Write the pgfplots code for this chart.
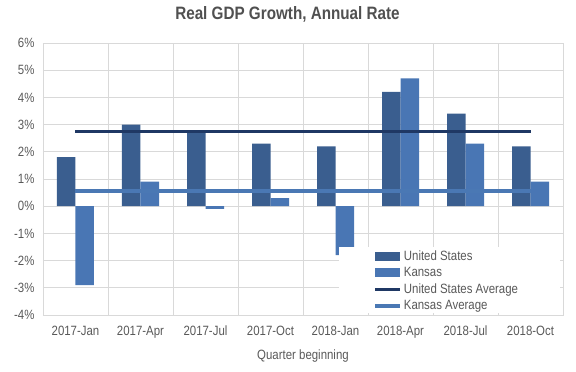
\documentclass[border=0pt]{standalone}
\usepackage{pgfplots}
\pgfplotsset{compat=1.18}
\usepackage{fontspec}
\setmainfont{Liberation Sans}[FakeStretch=0.85]
\definecolor{usbar}{RGB}{58,94,143}
\definecolor{ksbar}{RGB}{73,118,180}
\definecolor{usavg}{RGB}{31,56,100}
\definecolor{ksavg}{RGB}{74,120,180}
\definecolor{txt}{RGB}{89,89,89}
\definecolor{gridc}{RGB}{217,217,217}
\begin{document}
\begin{tikzpicture}
\begin{axis}[
  name=ax,
  scale only axis,
  width=520bp, height=272bp,
  xmin=-0.5, xmax=7.5,
  ymin=-4, ymax=6,
  ybar=0pt,
  bar width=18.5bp,
  xtick={0,...,7},
  xticklabels={2017-Jan,2017-Apr,2017-Jul,2017-Oct,2018-Jan,2018-Apr,2018-Jul,2018-Oct},
  minor xtick={-0.5,0.5,...,7.5},
  xminorgrids=true,
  ytick={-4,...,6},
  ymajorgrids=true,
  yticklabel={\pgfmathprintnumber{\tick}\%},
  /pgf/number format/assume math mode=true,
  major tick length=0pt, minor tick length=0pt,
  grid style={draw=gridc, line width=0.8bp},
  minor grid style={draw=gridc, line width=0.8bp},
  axis line style={draw=gridc, line width=0.8bp},
  tick label style={font=\fontsize{13.5}{16}\selectfont, text=txt},
  xticklabel style={anchor=center, text height=10bp, text depth=3bp, yshift=-17bp},
  yticklabel style={xshift=-5bp},
  xlabel={Quarter beginning},
  xlabel style={font=\fontsize{13.5}{16}\selectfont, text=txt, yshift=-4bp},
  clip=false,
  legend cell align=left,
  legend style={at={(rel axis cs:0.635,0.245)}, anchor=north west, draw=none, fill=none,
    font=\fontsize{13.5}{16}\selectfont, text=txt, inner sep=0pt, row sep=1.6bp},
]
\addplot[fill=usbar, draw=none, area legend,
  legend image code/.code={\fill[usbar] (0bp,-4.5bp) rectangle (25bp,4.5bp);}]
  coordinates {(0,1.8) (1,3.0) (2,2.8) (3,2.3) (4,2.2) (5,4.2) (6,3.4) (7,2.2)};
\addplot[fill=ksbar, draw=none, area legend,
  legend image code/.code={\fill[ksbar] (0bp,-4.5bp) rectangle (25bp,4.5bp);}]
  coordinates {(0,-2.9) (1,0.9) (2,-0.1) (3,0.3) (4,-1.8) (5,4.7) (6,2.3) (7,0.9)};
\addplot[sharp plot, draw=usavg, line width=3.5bp, mark=none,
  legend image code/.code={\draw[usavg, line width=3.5bp] (0bp,0bp) -- (25bp,0bp);}]
  coordinates {(0,2.75) (7,2.75)};
\addplot[sharp plot, draw=ksavg, line width=3.5bp, mark=none,
  legend image code/.code={\draw[ksavg, line width=3.5bp] (0bp,0bp) -- (25bp,0bp);}]
  coordinates {(0,0.55) (7,0.55)};
\fill[white] (rel axis cs:0.569,0.25) rectangle (rel axis cs:0.994,0.006);
\legend{United States, Kansas, United States Average, Kansas Average}
\end{axis}
\node[font=\fontsize{18}{20}\selectfont\bfseries, text={rgb,255:red,80;green,80;blue,80}]
  at (ax.north) [xshift=-15.5bp, yshift=29bp] {Real GDP Growth, Annual Rate};
\pgfresetboundingbox
\path (ax.south west) ++(-43bp,-57bp) rectangle ++(576bp,372bp);
\end{tikzpicture}
\end{document}
